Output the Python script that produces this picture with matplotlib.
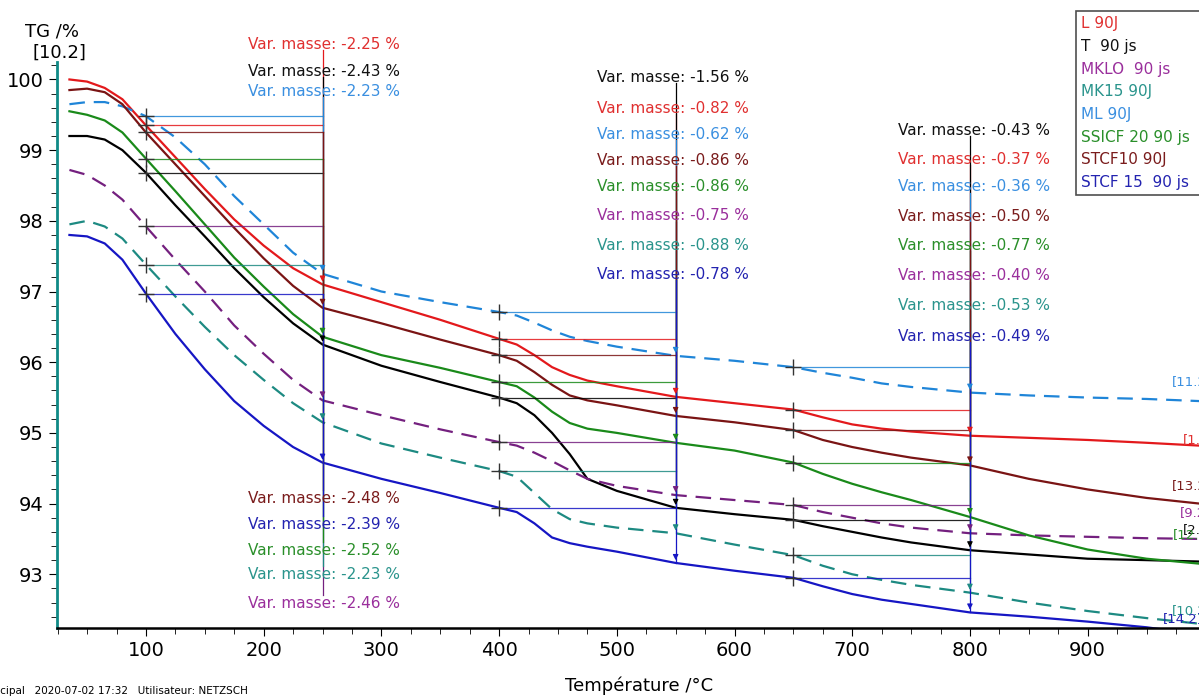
import numpy as np
import matplotlib
matplotlib.use("Agg")
import matplotlib.pyplot as plt
from matplotlib.ticker import MultipleLocator

# temperatures (°C) at which the curves were read
temps = [35, 50, 65, 80, 100, 125, 150, 175, 200, 225, 250, 300, 350, 400, 415, 430, 445, 460,
         475, 500, 550, 600, 650, 675, 700, 725, 750, 800, 850, 900, 950, 995]

tg_L = [100.0, 99.97, 99.88, 99.72, 99.35, 98.9, 98.45, 98.02, 97.65, 97.33, 97.1, 96.85, 96.6,
        96.33, 96.25, 96.1, 95.93, 95.82, 95.74, 95.66, 95.51, 95.42, 95.33, 95.22, 95.12, 95.06,
        95.02, 94.96, 94.93, 94.9, 94.86, 94.82]
tg_T = [99.2, 99.2, 99.15, 99.0, 98.68, 98.22, 97.78, 97.33, 96.92, 96.55, 96.25, 95.95, 95.72,
        95.5, 95.42, 95.25, 95.0, 94.7, 94.35, 94.18, 93.94, 93.85, 93.77, 93.68, 93.6, 93.52,
        93.45, 93.34, 93.28, 93.22, 93.2, 93.18]
tg_MKLO = [98.72, 98.65, 98.5, 98.3, 97.92, 97.45, 97.0, 96.52, 96.12, 95.75, 95.46, 95.25, 95.05,
           94.87, 94.82, 94.72, 94.6, 94.47, 94.35, 94.25, 94.12, 94.05, 93.98, 93.88, 93.8, 93.72,
           93.66, 93.58, 93.55, 93.53, 93.51, 93.5]
tg_MK15 = [97.95, 98.0, 97.92, 97.75, 97.38, 96.93, 96.5, 96.1, 95.75, 95.42, 95.15, 94.85, 94.65,
           94.46, 94.38, 94.15, 93.92, 93.78, 93.72, 93.66, 93.58, 93.42, 93.27, 93.12, 93.0, 92.92,
           92.85, 92.74, 92.6, 92.48, 92.38, 92.3]
tg_ML = [99.65, 99.68, 99.68, 99.62, 99.48, 99.18, 98.8, 98.35, 97.95, 97.55, 97.25, 97.0, 96.85,
         96.71, 96.66, 96.56, 96.45, 96.36, 96.3, 96.22, 96.09, 96.02, 95.93, 95.85, 95.78, 95.7,
         95.65, 95.57, 95.53, 95.5, 95.48, 95.45]
tg_SSICF = [99.55, 99.5, 99.42, 99.25, 98.88, 98.42, 97.95, 97.48, 97.07, 96.68, 96.36, 96.1, 95.92,
            95.72, 95.66, 95.5, 95.3, 95.14, 95.06, 95.0, 94.86, 94.75, 94.58, 94.42, 94.28, 94.16,
            94.05, 93.81, 93.55, 93.35, 93.22, 93.15]
tg_STCF10 = [99.85, 99.87, 99.82, 99.65, 99.25, 98.8, 98.35, 97.9, 97.47, 97.08, 96.77, 96.55, 96.32,
             96.1, 96.02, 95.86, 95.68, 95.53, 95.46, 95.39, 95.24, 95.15, 95.04, 94.9, 94.8, 94.72,
             94.65, 94.54, 94.35, 94.2, 94.08, 94.0]
tg_STCF15 = [97.8, 97.78, 97.68, 97.45, 96.97, 96.4, 95.9, 95.45, 95.1, 94.8, 94.58, 94.35, 94.15,
             93.94, 93.88, 93.72, 93.52, 93.44, 93.39, 93.32, 93.16, 93.05, 92.95, 92.83, 92.72, 92.64,
             92.58, 92.46, 92.4, 92.33, 92.25, 92.15]

names = ["L 90J", "T  90 js", "MKLO  90 js", "MK15 90J", "ML 90J", "SSICF 20 90 js", "STCF10 90J", "STCF 15  90 js"]
end_tags = ["[1.2]", "[2.2]", "[9.2]", "[10.2]", "[11.2]", "[12.2]", "[13.2]", "[14.2]"]

# mass change steps: (start, end) temperature and value per sample (same order as names)
steps = [(100, 250), (400, 550), (650, 800)]
dm_250 = [-2.25, -2.43, -2.46, -2.23, -2.23, -2.52, -2.48, -2.39]
dm_550 = [-0.82, -1.56, -0.75, -0.88, -0.62, -0.86, -0.86, -0.78]
dm_800 = [-0.37, -0.43, -0.40, -0.53, -0.36, -0.77, -0.50, -0.49]

series = [tg_L, tg_T, tg_MKLO, tg_MK15, tg_ML, tg_SSICF, tg_STCF10, tg_STCF15]
colors = ["#e3191c", "#000000", "#74207f", "#1d8a82", "#1f85d8", "#1a8a1a", "#7a1414", "#1616c4"]
text_colors = ["#e03030", "#111111", "#9a2f9c", "#2a948c", "#3a8fe0", "#2a8f2a", "#7a1c1c", "#2323b0"]
styles = ["-", "-", (0, (7, 4)), (0, (7, 4)), (0, (7, 4)), "-", "-", "-"]

# label layout (text x in °C, y in %) for each step column
# order: L, T, MKLO, MK15, ML, SSICF, STCF10, STCF15
lab_x = [187, 483, 739]
lab_y = [
    [100.5, 100.11, 92.59, 92.99, 99.83, 93.34, 94.07, 93.71],
    [99.59, 100.03, 98.07, 97.65, 99.22, 98.48, 98.85, 97.24],
    [98.87, 99.28, 97.22, 96.8, 98.48, 97.65, 98.06, 96.37],
]
# end-of-curve tags (x in °C, y in %)
tag_x = [981, 981, 978.5, 971.7, 971.7, 972.5, 971.7, 964]
tag_y = [94.9, 93.63, 93.87, 92.49, 95.72, 93.56, 94.26, 92.37]

fig = plt.figure(figsize=(11.99, 6.99), dpi=100)
ax = fig.add_axes([0.0475, 0.1016, 0.9525, 0.81])

for s, c, ls, n in zip(series, colors, styles, names):
    ax.plot(temps, s, color=c, linestyle=ls, linewidth=1.6, label=n)

for (t0, t1), dm, col_y, lx in zip(steps, [dm_250, dm_550, dm_800], lab_y, lab_x):
    for s, c, tc, d, ly in zip(series, colors, text_colors, dm, col_y):
        v0 = np.interp(t0, temps, s)
        v1 = np.interp(t1, temps, s)
        ax.plot([t0, t1], [v0, v0], color=c, linewidth=0.9, alpha=0.85)
        top = max(v0, ly - 0.08) if ly > v0 else v0
        bot = min(v1, ly + 0.12) if ly < v1 else v1
        ax.plot([t1, t1], [bot, top], color=c, linewidth=0.9, clip_on=False)
        ax.plot(t0, v0, marker="+", color="#333333", markersize=12, markeredgewidth=1)
        ax.annotate("", xy=(t1, v1), xytext=(t1, v1 + 0.12),
                    arrowprops=dict(arrowstyle="-|>", color=c, lw=0.8, mutation_scale=8))
        ax.text(lx, ly, f"Var. masse: {d:.2f} %", color=tc, fontsize=11,
                ha="left", va="center", clip_on=False)

for tx, ty, c, tag in zip(tag_x, tag_y, text_colors, end_tags):
    ax.text(tx, ty, tag, color=c, fontsize=9.5, ha="left", va="center", clip_on=False)

ax.set_xlim(24.4, 994.6)
ax.set_ylim(92.24, 100.25)
ax.xaxis.set_major_locator(MultipleLocator(100))
ax.xaxis.set_minor_locator(MultipleLocator(25))
ax.yaxis.set_major_locator(MultipleLocator(1))
ax.yaxis.set_minor_locator(MultipleLocator(0.2))
ax.set_xticks(range(100, 1000, 100))
ax.tick_params(axis="both", which="major", labelsize=14, length=6)
ax.tick_params(axis="both", which="minor", length=4)
for side in ["top", "right"]:
    ax.spines[side].set_visible(False)
ax.spines["left"].set_color("#0f8a86")
ax.spines["left"].set_linewidth(2)
ax.spines["bottom"].set_linewidth(1.8)

fig.text(0.021, 0.955, "TG /%", fontsize=13, ha="left", va="center")
fig.text(0.027, 0.925, "[10.2]", fontsize=13, ha="left", va="center")
ax.set_xlabel("Température /°C", fontsize=13)
ax.xaxis.set_label_coords(0.51, -0.085)
fig.text(-0.017, 0.012, "Principal   2020-07-02 17:32   Utilisateur: NETZSCH", fontsize=7.5,
         ha="left", va="center")

leg = ax.legend(loc="upper left", bbox_to_anchor=(0.891, 0.995), bbox_transform=fig.transFigure,
                handlelength=0, handletextpad=0, fontsize=11, labelspacing=0.5,
                frameon=True, fancybox=False, edgecolor="#222222", borderpad=0.35)
leg.get_frame().set_linewidth(1.2)
for h in leg.legend_handles:
    h.set_visible(False)
for txt, c in zip(leg.get_texts(), text_colors):
    txt.set_color(c)
    txt.set_text(txt.get_text() + "        ")

fig.savefig("out.png", dpi=100)
